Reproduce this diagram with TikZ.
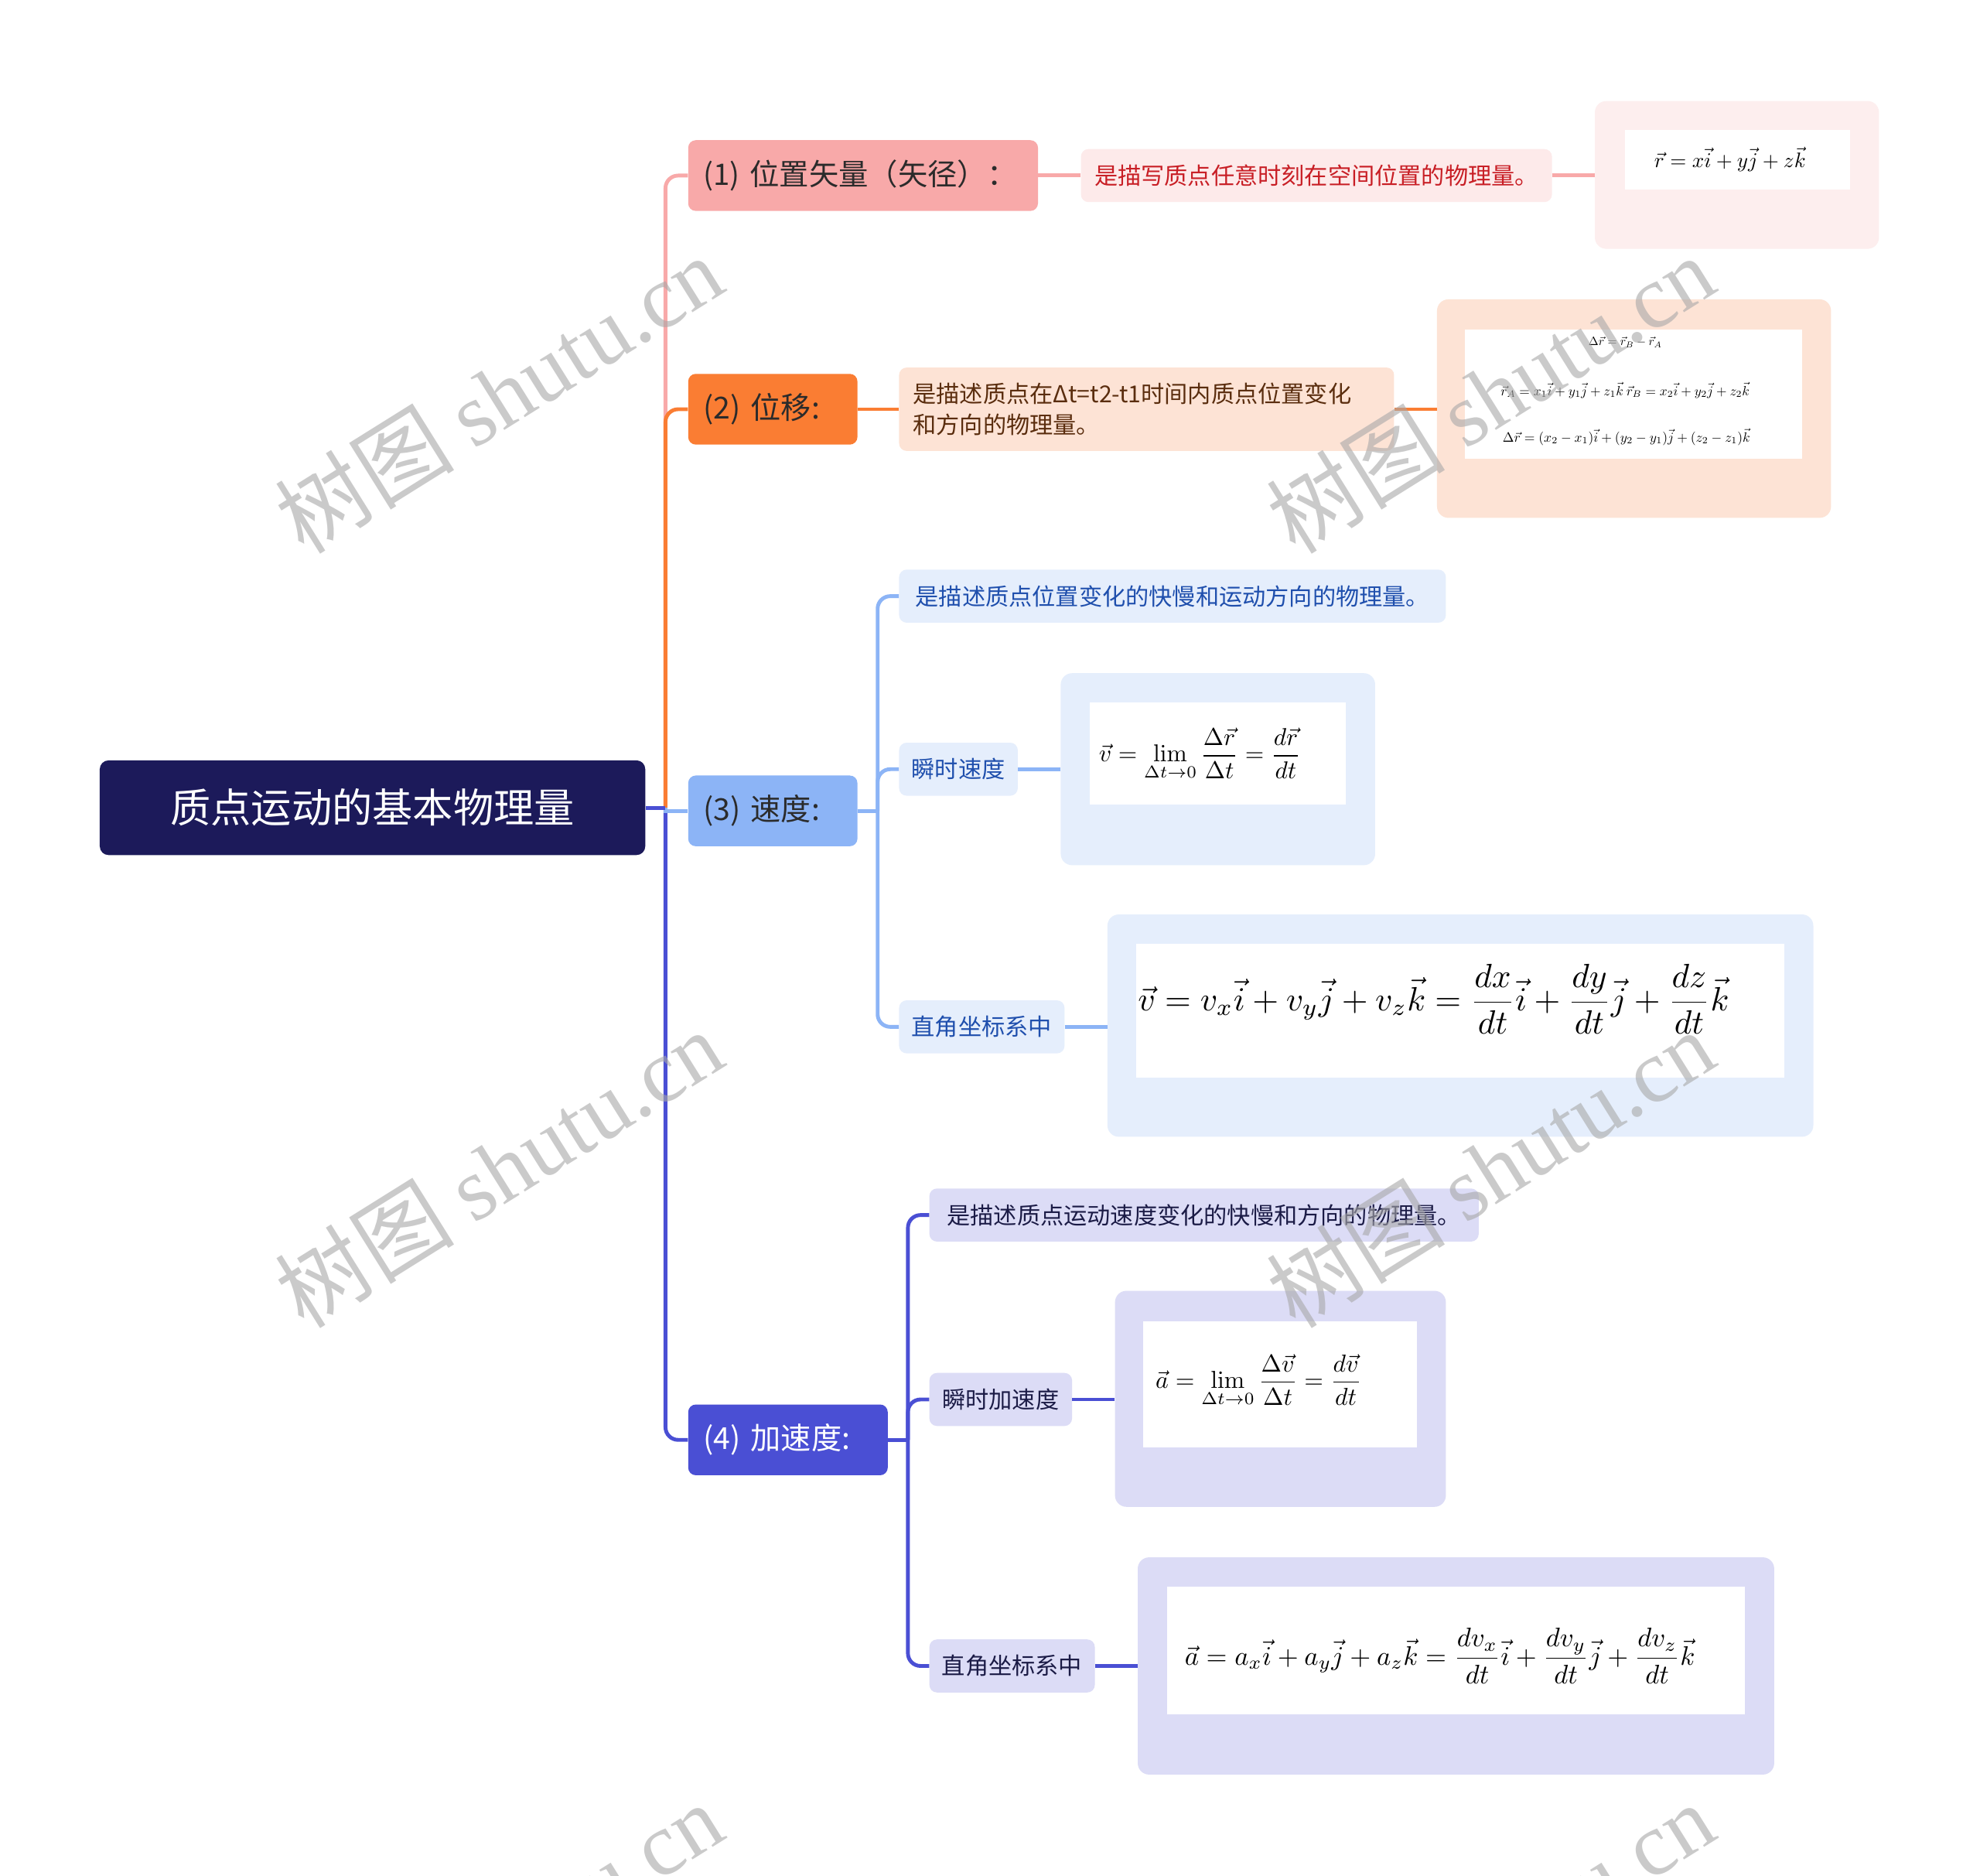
\documentclass[tikz,border=0pt]{standalone}
\usepackage[no-math]{fontspec}
\usepackage{amsmath}
\usepackage{graphicx}
\setmainfont{Noto Sans CJK SC}
\newfontfamily\wmserif{Liberation Serif}
\usetikzlibrary{calc}
\definecolor{rootc}{HTML}{1C1A5A}
\definecolor{pinkc}{HTML}{F8A9A9}
\definecolor{pinkd}{HTML}{FDEAEA}
\definecolor{pinki}{HTML}{FDEEEE}
\definecolor{pinkt}{HTML}{C81E25}
\definecolor{orac}{HTML}{FA7D33}
\definecolor{orad}{HTML}{FDE3D5}
\definecolor{orat}{HTML}{5A2D0E}
\definecolor{lbc}{HTML}{8CB4F6}
\definecolor{lbd}{HTML}{E5EEFC}
\definecolor{lbt}{HTML}{1F4FAD}
\definecolor{dbc}{HTML}{4A4FD4}
\definecolor{dbd}{HTML}{DCDCF6}
\definecolor{dbt}{HTML}{1B1B46}
\definecolor{darktext}{HTML}{2B2B2B}
\definecolor{wmc}{HTML}{A8A8A8}
\begin{document}
\begin{tikzpicture}[x=1pt,y=-1pt,
  branchbox/.style={rounded corners=6pt, minimum height=56pt, inner ysep=0pt, inner xsep=12pt, align=left, font=\fontsize{24}{28}\selectfont},
  descbox/.style={rounded corners=6pt, minimum height=42pt, inner sep=0pt, font=\fontsize{18.5}{22}\selectfont},
  imgouter/.style={rounded corners=9pt, inner sep=0pt},
  imginner/.style={fill=white, inner sep=0pt},
  conn/.style={line width=3pt},
  wmark/.style={text=wmc, opacity=0.6, rotate=32, inner sep=0pt, font=\fontsize{71}{76}\selectfont}
]
\useasboundingbox[fill=white] (0,0) rectangle (1568,1485.3);

% ---------- nodes ----------
\node[fill=rootc, text=white, rounded corners=7pt, minimum width=432pt, minimum height=75pt, inner sep=0pt, font=\fontsize{32}{38}\selectfont] (root) at (295,639.5) {质点运动的基本物理量};

\node[branchbox, fill=pinkc, text=darktext, text width=253pt, font=\fontsize{23.5}{28}\selectfont] (b1) at (683.5,139) {\mbox{(1) 位置矢量（矢径）：}};
\node[branchbox, fill=orac, text=darktext, text width=110pt] (b2) at (612,324) {(2) 位移:};
\node[branchbox, fill=lbc, text=darktext, text width=110pt] (b3) at (612,642) {(3) 速度:};
\node[branchbox, fill=dbc, text=white, text width=134pt] (b4) at (624,1140) {(4) 加速度:};

% branch 1 children
\node[descbox, fill=pinkd, text=pinkt, minimum width=373pt] (d1) at (1042.5,139) {是描写质点任意时刻在空间位置的物理量。};
\node[imgouter, fill=pinki, minimum width=225pt, minimum height=117pt] (i1) at (1375.5,138.5) {};
\node[imginner, minimum width=178pt, minimum height=47pt] (i1w) at (1376,126.5) {};
\node (f1) at (1370,126) {\resizebox{120pt}{!}{$\vec{r}=x\vec{i}+y\vec{j}+z\vec{k}$}};

% branch 2 children
\node[descbox, fill=orad, text=orat, minimum height=66pt, inner xsep=11pt, text width=370pt, align=left, font=\fontsize{18.5}{24}\selectfont] (d2) at (908,324) {是描述质点在Δt=t2-t1时间内质点位置变化\\和方向的物理量。};
\node[imgouter, fill=orad, minimum width=312pt, minimum height=173pt] (i2) at (1294,323.5) {};
\node[imginner, minimum width=267pt, minimum height=102pt] (i2w) at (1293.5,312) {};
\node (f2a) at (1287,271) {\resizebox{58pt}{!}{$\Delta\vec{r}=\vec{r}_B-\vec{r}_A$}};
\node (f2b) at (1287,309) {\resizebox{197pt}{!}{$\vec{r}_A=x_1\vec{i}+y_1\vec{j}+z_1\vec{k}\ \vec{r}_B=x_2\vec{i}+y_2\vec{j}+z_2\vec{k}$}};
\node (f2c) at (1288,346) {\resizebox{196pt}{!}{$\Delta\vec{r}=(x_2-x_1)\vec{i}+(y_2-y_1)\vec{j}+(z_2-z_1)\vec{k}$}};

% branch 3 children
\node[descbox, fill=lbd, text=lbt, minimum width=433pt] (d3) at (928.5,472) {是描述质点位置变化的快慢和运动方向的物理量。};
\node[descbox, fill=lbd, text=lbt, minimum width=94pt] (s3a) at (759,609) {瞬时速度};
\node[imgouter, fill=lbd, minimum width=249pt, minimum height=152pt] (i3a) at (964.5,609) {};
\node[imginner, minimum width=203pt, minimum height=81pt] (i3aw) at (964.5,596.5) {};
\node[anchor=west, inner sep=0pt] (f3a) at (870,597) {\resizebox{160pt}{!}{$\displaystyle\vec{v}=\lim_{\Delta t\to 0}\frac{\Delta\vec{r}}{\Delta t}=\frac{d\vec{r}}{dt}$}};
\node[descbox, fill=lbd, text=lbt, minimum width=131pt] (s3b) at (777.5,813) {直角坐标系中};
\node[imgouter, fill=lbd, minimum width=559pt, minimum height=176pt] (i3b) at (1156.5,812) {};
\node[imginner, minimum width=513pt, minimum height=106pt] (i3bw) at (1156.5,800) {};
\node[anchor=west, inner sep=0pt] (f3b) at (901,791) {\resizebox{468pt}{!}{$\displaystyle\vec{v}=v_x\vec{i}+v_y\vec{j}+v_z\vec{k}=\frac{dx}{dt}\vec{i}+\frac{dy}{dt}\vec{j}+\frac{dz}{dt}\vec{k}$}};

% branch 4 children
\node[descbox, fill=dbd, text=dbt, minimum width=435pt] (d4) at (953.5,962) {是描述质点运动速度变化的快慢和方向的物理量。};
\node[descbox, fill=dbd, text=dbt, minimum width=113pt] (s4a) at (792.5,1108) {瞬时加速度};
\node[imgouter, fill=dbd, minimum width=262pt, minimum height=171pt] (i4a) at (1014,1107.5) {};
\node[imginner, minimum width=217pt, minimum height=100pt] (i4aw) at (1013.5,1096) {};
\node[anchor=west, inner sep=0pt] (f4a) at (915,1093) {\resizebox{163pt}{!}{$\displaystyle\vec{a}=\lim_{\Delta t\to 0}\frac{\Delta\vec{v}}{\Delta t}=\frac{d\vec{v}}{dt}$}};
\node[descbox, fill=dbd, text=dbt, minimum width=131pt] (s4b) at (801.5,1319) {直角坐标系中};
\node[imgouter, fill=dbd, minimum width=504pt, minimum height=172pt] (i4b) at (1153,1319) {};
\node[imginner, minimum width=458pt, minimum height=101pt] (i4bw) at (1153,1306.5) {};
\node[anchor=west, inner sep=0pt] (f4b) at (938,1311) {\resizebox{404pt}{!}{$\displaystyle\vec{a}=a_x\vec{i}+a_y\vec{j}+a_z\vec{k}=\frac{dv_x}{dt}\vec{i}+\frac{dv_y}{dt}\vec{j}+\frac{dv_z}{dt}\vec{k}$}};

% ---------- connectors ----------
\coordinate (j) at (527,639.5);
\coordinate (j3) at (695,642);
\coordinate (j4) at (719,1140);

\draw[conn, pinkc, rounded corners=10pt] (j) |- (b1.west);
\draw[conn, orac, rounded corners=10pt] (j) |- (b2.west);
\draw[conn, dbc, rounded corners=10pt] (j) |- (b4.west);
\draw[conn, lbc] (j) -- (j |- b3.west) -- (b3.west);
\draw[conn, dbc] (root.east) -- (j);

\draw[conn, pinkc] (b1.east) -- (d1.west);
\draw[conn, pinkc] (d1.east) -- (d1.east -| i1.west);
\draw[conn, orac] (b2.east) -- (d2.west);
\draw[conn, orac] (d2.east) -- (d2.east -| i2.west);

\draw[conn, lbc] (b3.east) -- (j3);
\draw[conn, lbc, rounded corners=10pt] (j3) |- (d3.west);
\draw[conn, lbc, rounded corners=10pt] (j3) |- (s3a.west);
\draw[conn, lbc, rounded corners=10pt] (j3) |- (s3b.west);
\draw[conn, lbc] (s3a.east) -- (s3a.east -| i3a.west);
\draw[conn, lbc] (s3b.east) -- (s3b.east -| i3b.west);

\draw[conn, dbc] (b4.east) -- (j4);
\draw[conn, dbc, rounded corners=10pt] (j4) |- (d4.west);
\draw[conn, dbc, rounded corners=10pt] (j4) |- (s4a.west);
\draw[conn, dbc, rounded corners=10pt] (j4) |- (s4b.west);
\draw[conn, dbc] (s4a.east) -- (s4a.east -| i4a.west);
\draw[conn, dbc] (s4b.east) -- (s4b.east -| i4b.west);

% ---------- watermarks ----------
\node[wmark] (wm1) at (395,312) {树图 {\wmserif shutu.cn}};
\node[wmark] (wm2) at (1180,312) {树图 {\wmserif shutu.cn}};
\node[wmark] (wm3) at (395,925) {树图 {\wmserif shutu.cn}};
\node[wmark] (wm4) at (1180,925) {树图 {\wmserif shutu.cn}};
\node[wmark] (wm5) at (395,1537) {树图 {\wmserif shutu.cn}};
\node[wmark] (wm6) at (1180,1537) {树图 {\wmserif shutu.cn}};
\end{tikzpicture}
\end{document}
